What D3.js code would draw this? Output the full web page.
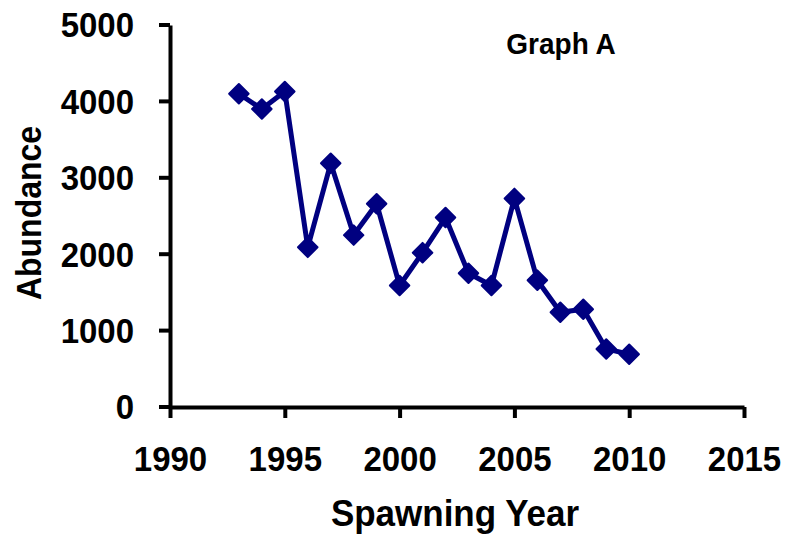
<!doctype html>
<html lang="en">
<head>
  <meta charset="utf-8">
  <title>Graph A</title>
  <style>
    body { margin: 0; background: #fff; }
    text {
      font-family: "Liberation Sans", Arial, sans-serif;
      font-weight: bold;
      fill: #000;
    }
    .axis path, .axis line {
      stroke: #000;
      stroke-width: 4px;
    }
    .series {
      fill: none;
      stroke: #000080;
      stroke-width: 5px;
      stroke-linejoin: round;
    }
    .marker {
      fill: #000080;
      stroke: #000080;
      stroke-width: 2px;
      stroke-linejoin: round;
    }
  </style>
</head>
<body>
  <div id="chart"></div>
  <script src="https://cdn.jsdelivr.net/npm/d3@7/dist/d3.min.js"></script>
  <script>
(function(){

  var years = [1993, 1994, 1995, 1996, 1997, 1998, 1999, 2000, 2001, 2002,
               2003, 2004, 2005, 2006, 2007, 2008, 2009, 2010];
  var abundance = [4100, 3900, 4130, 2090, 3190, 2250, 2660, 1590, 2020, 2480,
                   1750, 1590, 2730, 1660, 1240, 1280, 760, 690];
  var xTicks = [1990, 1995, 2000, 2005, 2010, 2015];
  var yTicks = [0, 1000, 2000, 3000, 4000, 5000];

  var width = 785;
  var height = 538;
  var stretch = 1.08;   // labels in the original look a little tall

  var svg = d3.select("#chart")
      .append("svg")
      .attr("width", width)
      .attr("height", height);

  var x = d3.scaleLinear().domain([1990, 2015]).range([170, 744]);
  var y = d3.scaleLinear().domain([0, 5000]).range([407, 25]);

  var xAxis = svg.append("g")
      .attr("class", "axis")
      .attr("transform", "translate(0," + y(0) + ")")
      .call(d3.axisBottom(x).tickValues(xTicks).tickFormat(d3.format("d"))
        .tickSize(11).tickSizeOuter(0));

  xAxis.selectAll("text")
      .attr("y", 64 / stretch)
      .attr("dy", 0)
      .attr("transform", "scale(1," + stretch + ")")
      .style("font-size", "33px");

  var yAxis = svg.append("g")
      .attr("class", "axis")
      .attr("transform", "translate(" + x(1990) + ",0)")
      .call(d3.axisLeft(y).tickValues(yTicks).tickFormat(d3.format("d"))
        .tickSize(11).tickSizeOuter(0));

  yAxis.selectAll("text")
      .attr("x", -36)
      .attr("dy", "0.35em")
      .attr("transform", "scale(1," + stretch + ")")
      .style("font-size", "33px");

  yAxis.selectAll(".tick").each(function(d) {
    d3.select(this).attr("transform", "translate(0," + y(d) + ")");
  });

  var pts = years.map(function(d, i) { return [d, abundance[i]]; });

  var line = d3.line()
      .x(function(d) { return x(d[0]); })
      .y(function(d) { return y(d[1]); });

  svg.append("path")
      .datum(pts)
      .attr("class", "series")
      .attr("d", line);

  var diamond = d3.symbol().type(d3.symbolSquare).size(190);

  svg.selectAll(".marker")
      .data(pts)
    .enter().append("path")
      .attr("class", "marker")
      .attr("d", diamond)
      .attr("transform", function(d) {
        return "translate(" + x(d[0]) + "," + y(d[1]) + ") rotate(45)";
      });

  svg.append("text")
      .attr("x", 455)
      .attr("y", 526 / stretch)
      .attr("text-anchor", "middle")
      .attr("transform", "scale(1," + stretch + ")")
      .style("font-size", "35px")
      .text("Spawning Year");

  svg.append("text")
      .attr("transform", "translate(41,213) rotate(-90) scale(1," + stretch + ")")
      .attr("text-anchor", "middle")
      .style("font-size", "32px")
      .text("Abundance");

  svg.append("text")
      .attr("x", 561)
      .attr("y", 54 / stretch)
      .attr("text-anchor", "middle")
      .attr("transform", "scale(1," + stretch + ")")
      .style("font-size", "28px")
      .text("Graph A");

})();
  </script>
</body>
</html>
